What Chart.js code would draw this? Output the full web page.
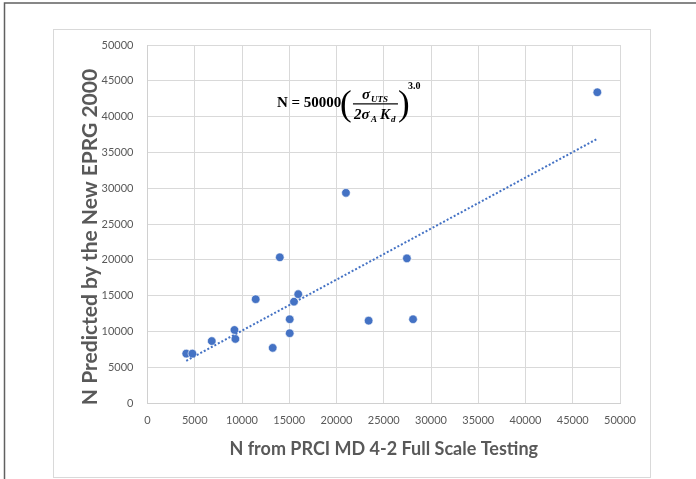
<!DOCTYPE html>
<html>
<head>
<meta charset="utf-8">
<script src="https://cdn.jsdelivr.net/npm/chart.js@4.4.0/dist/chart.umd.min.js"></script>
<style>
  html, body { margin: 0; padding: 0; background: #fff; }
  #wrap { position: relative; width: 696px; height: 479px; }
</style>
</head>
<body>
<div id="wrap"><canvas id="chart" width="696" height="479"></canvas></div>
<script>
'use strict';

// data
let actualN = [4100, 4750, 6800, 9200, 9300, 11450, 13250, 14000, 15050, 15050, 15500, 15950, 21000, 23400, 27450, 28100, 47600];
let predictedN = [6900, 6900, 8650, 10200, 8950, 14500, 7700, 20350, 11700, 9750, 14150, 15200, 29350, 11500, 20200, 11700, 43400];

// dotted trendline ends
let trendX = [4100, 47600];
let trendY = [5900, 36900];

// axis ticks
let xTicks = [0, 5000, 10000, 15000, 20000, 25000, 30000, 35000, 40000, 45000, 50000];
let yTicks = [0, 5000, 10000, 15000, 20000, 25000, 30000, 35000, 40000, 45000, 50000];

let xTitle = 'N from PRCI MD 4-2 Full Scale Testing';
let yTitle = 'N Predicted by the New EPRG 2000';

let blue = '#4472C4';
let grey = '#595959';

function toPoints(xs, ys){
  let pts = [];
  for (let i = 0; i < xs.length; i++){
    pts.push({x: xs[i], y: ys[i]});
  }
  return pts;
}

// frame, chart border, y title and the formula
let decorations = {
  id: 'decorations',
  beforeDraw(chart){
    let ctx = chart.ctx;
    ctx.save();
    ctx.fillStyle = '#fff';
    ctx.fillRect(0, 0, chart.width, chart.height);
    ctx.strokeStyle = '#d9d9d9';
    ctx.lineWidth = 1;
    ctx.strokeRect(53.5, 29.5, 597, 448);
    ctx.strokeStyle = '#606060';
    ctx.lineWidth = 1.5;
    ctx.beginPath();
    ctx.moveTo(4.5, 479);
    ctx.lineTo(4.5, 3);
    ctx.lineTo(696, 3);
    ctx.stroke();
    ctx.restore();
  },
  afterDraw(chart){
    let ctx = chart.ctx;

    // y axis title, a bit lower than the plot centre like the original
    ctx.save();
    ctx.translate(90, 237);
    ctx.rotate(-Math.PI / 2);
    ctx.fillStyle = grey;
    ctx.font = 'bold 21px Lato';
    ctx.textAlign = 'center';
    ctx.textBaseline = 'middle';
    ctx.fillText(yTitle, 0, 0);
    ctx.restore();

    let x0 = chart.scales.x.getPixelForValue(13700);
    let y0 = chart.scales.y.getPixelForValue(42000);
    ctx.save();
    ctx.fillStyle = '#000';
    ctx.textBaseline = 'alphabetic';
    ctx.font = 'bold 15px "Liberation Serif"';
    ctx.fillText('N = 50000', x0, y0 + 5);
    // parentheses
    ctx.font = '35px "Liberation Serif"';
    ctx.fillText('(', x0 + 63, y0 + 13);
    ctx.fillText(')', x0 + 121, y0 + 13);
    // numerator
    ctx.font = 'bold italic 15px "Liberation Serif"';
    ctx.fillText('\u03C3', x0 + 85, y0 - 3);
    ctx.font = 'bold italic 9px "Liberation Serif"';
    ctx.fillText('UTS', x0 + 94, y0);
    // fraction bar
    ctx.fillRect(x0 + 76, y0 + 1, 45, 1.2);
    // denominator
    ctx.font = 'bold italic 15px "Liberation Serif"';
    ctx.fillText('2\u03C3', x0 + 77, y0 + 17);
    ctx.font = 'bold italic 9px "Liberation Serif"';
    ctx.fillText('A', x0 + 94, y0 + 20);
    ctx.font = 'bold italic 15px "Liberation Serif"';
    ctx.fillText('K', x0 + 103, y0 + 17);
    ctx.font = 'bold italic 9px "Liberation Serif"';
    ctx.fillText('d', x0 + 114, y0 + 20);
    // exponent
    ctx.font = 'bold 10px "Liberation Serif"';
    ctx.fillText('3.0', x0 + 131, y0 - 13);
    ctx.restore();
  }
};

let config = {
  type: 'scatter',
  data: {
    datasets: [
      {
        label: 'Trend',
        type: 'line',
        data: toPoints(trendX, trendY),
        borderColor: blue,
        borderWidth: 2,
        borderDash: [2, 2],
        pointRadius: 0,
        fill: false
      },
      {
        label: 'N',
        data: toPoints(actualN, predictedN),
        backgroundColor: blue,
        borderColor: 'rgba(255,255,255,0.6)',
        borderWidth: 1,
        pointRadius: 4.3
      }
    ]
  },
  options: {
    responsive: false,
    animation: false,
    layout: {padding: {left: 0, right: 76, top: 45, bottom: 0}},
    plugins: {
      legend: {display: false},
      tooltip: {enabled: false}
    },
    scales: {
      x: {
        type: 'linear',
        min: 0,
        max: 50000,
        afterBuildTicks(scale){
          scale.ticks = xTicks.map(v => ({value: v}));
        },
        afterFit(scale){
          scale.height = 76;
        },
        ticks: {
          color: grey,
          font: {family: 'Lato', size: 11},
          padding: 11,
          maxRotation: 0,
          callback: v => String(v)
        },
        grid: {color: '#d9d9d9', drawTicks: false},
        border: {color: '#d0d0d0'},
        title: {
          display: true,
          text: xTitle,
          color: grey,
          font: {family: 'Lato', size: 18, weight: 'bold'},
          padding: {top: 0, bottom: 19}
        }
      },
      y: {
        type: 'linear',
        min: 0,
        max: 50000,
        afterBuildTicks(scale){
          scale.ticks = yTicks.map(v => ({value: v}));
        },
        afterFit(scale){
          scale.width = 147.5;
        },
        ticks: {
          color: grey,
          font: {family: 'Lato', size: 11},
          padding: 14,
          callback: v => String(v)
        },
        grid: {color: '#d9d9d9', drawTicks: false},
        border: {color: '#d0d0d0'}
      }
    }
  },
  plugins: [decorations]
};

let myChart = new Chart(document.getElementById('chart'), config);
</script>
</body>
</html>
